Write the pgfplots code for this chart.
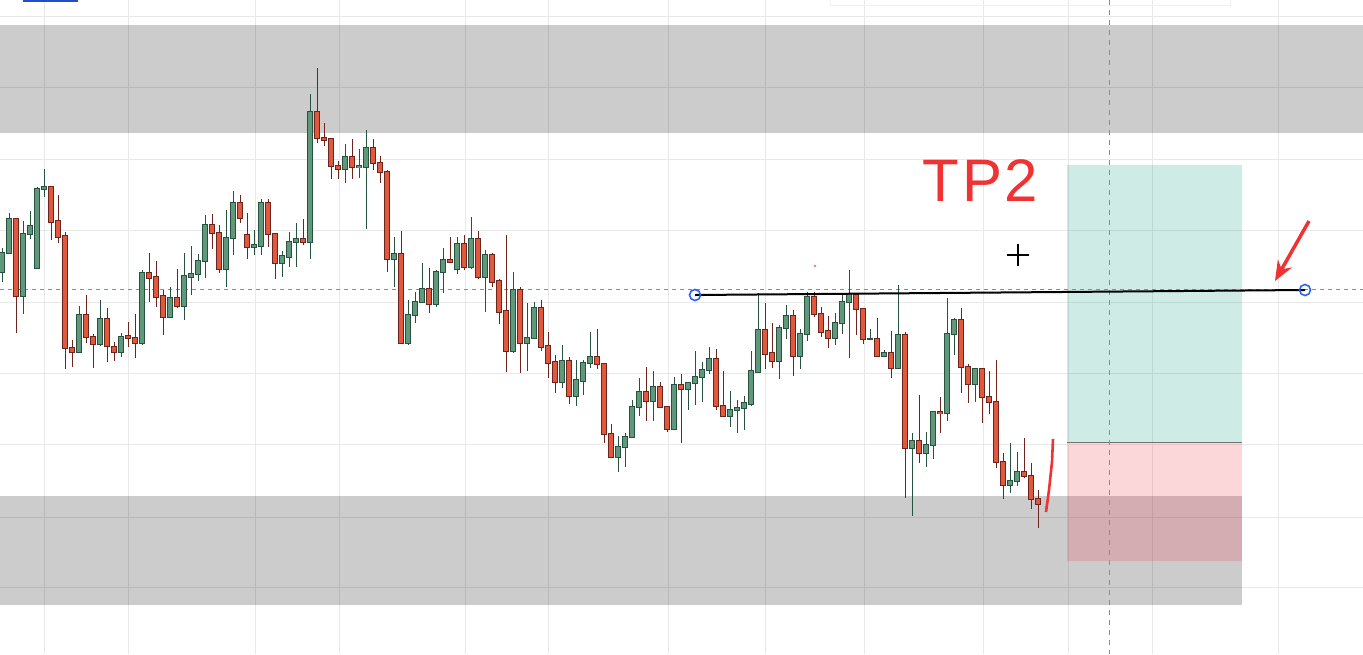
\documentclass[border=0pt]{standalone}
\usepackage{fontspec}
\setmainfont{Liberation Sans}
\usepackage{pgfplots}
\usepackage{pgfplotstable}
\pgfplotsset{compat=1.18}
\usetikzlibrary{arrows.meta}
\definecolor{cgreen}{RGB}{96,152,124}
\definecolor{cgreenD}{RGB}{40,82,64}
\definecolor{cred}{RGB}{224,88,62}
\definecolor{credD}{RGB}{110,36,26}
\definecolor{gridc}{RGB}{232,232,232}
\definecolor{teal}{RGB}{8,153,129}
\definecolor{pinkr}{RGB}{242,54,69}
\definecolor{hand}{RGB}{240,50,50}
\definecolor{tlblue}{RGB}{41,98,255}

% up candles: i, o (body bottom px), h (wick top px), l (wick bottom px), c (body top px)
\pgfplotstableread{
i o h l c
0 272 248 282 253
1 253 213 253 219
3 296 221 314 234
4 234 211 239 226
5 268 187 268 189
6 189 169 197 187
11 352 306 353 315
14 344 300 346 319
17 352 333 357 337
20 343 270 345 273
24 317 287 317 298
26 306 253 320 276
27 277 246 295 274
28 274 254 281 261
29 261 215 278 225
32 269 210 287 238
33 238 191 255 203
36 247 230 255 245
37 246 199 255 203
40 263 251 277 256
41 257 232 267 242
42 242 223 267 239
44 242 94 259 112
49 169 144 183 157
51 167 149 178 166
52 167 130 229 148
56 259 237 287 254
58 343 300 345 315
59 315 292 323 302
60 302 263 303 289
62 304 270 307 272
63 272 248 293 260
65 269 237 274 244
67 267 217 269 239
69 277 250 312 255
73 351 272 353 290
75 343 303 371 338
76 338 302 339 308
80 382 345 388 361
82 396 360 406 380
83 381 360 395 363
84 363 332 368 357
88 457 436 472 447
89 447 433 467 437
90 437 400 437 407
91 407 378 416 392
93 401 371 421 387
96 429 377 429 385
98 389 383 410 383
99 383 351 405 377
100 377 362 402 370
101 370 347 374 359
104 416 391 427 410
105 410 400 433 408
106 408 396 430 403
107 404 351 406 371
108 372 293 373 330
111 361 325 379 328
112 328 305 339 316
114 356 329 369 334
115 334 292 341 297
119 338 313 345 323
120 323 294 334 302
121 302 270 358 294
124 339 329 339 339
126 356 350 356 353
128 368 285 369 335
130 448 433 516 441
132 453 432 467 445
133 445 411 459 412
135 413 298 421 334
136 334 318 355 320
139 384 369 402 369
144 485 443 493 481
145 481 452 486 472
}\upT

% down candles: i, o (body top px), h (wick top px), l (wick bottom px), c (body bottom px)
\pgfplotstableread{
i o h l c
2 219 219 333 296
7 187 186 240 222
8 221 195 243 237
9 236 232 369 348
10 348 340 367 352
12 315 295 343 337
13 337 334 368 344
15 319 308 362 346
16 347 342 361 352
18 336 322 347 338
19 338 314 358 343
21 273 253 302 278
22 277 261 307 297
23 296 290 335 317
25 298 269 308 306
30 225 214 249 233
31 233 225 273 269
34 203 195 223 218
35 235 213 259 247
38 203 199 247 234
39 234 234 279 263
43 239 219 245 242
45 112 68 143 138
46 138 123 146 140
47 139 139 179 166
48 166 161 179 169
50 157 139 179 167
53 148 139 170 163
54 163 156 183 172
55 172 170 272 259
57 254 231 344 343
61 289 268 313 304
64 260 237 262 262
66 244 235 270 267
68 239 231 279 277
70 255 253 287 282
71 281 279 324 312
72 311 235 372 351
74 290 287 373 343
77 308 300 351 347
78 346 332 378 363
79 362 355 393 382
81 361 357 404 396
85 357 329 369 364
86 364 363 443 434
87 434 424 458 457
92 392 367 421 401
94 387 382 407 407
95 407 407 432 429
97 385 374 443 389
102 359 349 410 406
103 406 371 417 416
109 330 303 369 354
110 353 323 368 361
113 316 310 376 356
116 297 292 317 314
117 314 307 337 332
118 331 316 348 338
122 295 293 335 309
123 309 309 344 339
125 339 318 356 356
127 353 331 378 368
129 335 332 498 448
131 441 395 463 453
134 412 397 433 413
137 320 308 393 367
138 367 364 403 384
140 369 369 423 397
141 397 371 414 402
142 402 360 468 462
143 462 453 499 485
146 472 438 478 476
147 476 463 509 499
148 499 490 528 504
}\dnT

\pgfplotsset{
  ebar/.style 2 args={draw=none, mark=none, forget plot,
    error bars/.cd, y dir=both, y explicit, error mark=none,
    error bar style={line width=#1, draw=#2}},
}

\begin{document}
\begin{tikzpicture}
\begin{axis}[
  width=1363pt, height=654pt, scale only axis,
  xmin=0, xmax=1363, ymin=0, ymax=654, y dir=reverse,
  axis line style={draw=none}, ticks=none, clip=true,
  unbounded coords=jump,
]
% grid
\addplot[gridc, line width=1pt, forget plot] coordinates {
(44,0)(44,654)(nan,nan)(128,0)(128,654)(nan,nan)(255,0)(255,654)(nan,nan)
(339,0)(339,654)(nan,nan)(465,0)(465,654)(nan,nan)(548,0)(548,654)(nan,nan)
(668,0)(668,654)(nan,nan)(765,0)(765,654)(nan,nan)(864,0)(864,654)(nan,nan)
(983,0)(983,654)(nan,nan)(1068,0)(1068,654)(nan,nan)(1152,0)(1152,654)(nan,nan)
(1278,0)(1278,654)};
\addplot[gridc, line width=1pt, forget plot] coordinates {
(0,16)(1363,16)(nan,nan)(0,87)(1363,87)(nan,nan)(0,159)(1363,159)(nan,nan)
(0,230)(1363,230)(nan,nan)(0,302)(1363,302)(nan,nan)(0,373)(1363,373)(nan,nan)
(0,444)(1363,444)(nan,nan)(0,517)(1363,517)(nan,nan)(0,587)(1363,587)};
% zones
\addplot[draw=none, fill=black, fill opacity=0.2, forget plot] coordinates {(0,25)(1363,25)(1363,133)(0,133)} --cycle;
\addplot[draw=none, fill=black, fill opacity=0.2, forget plot] coordinates {(0,496)(1242,496)(1242,605)(0,605)} --cycle;
\addplot[draw=none, fill=teal, fill opacity=0.2, forget plot] coordinates {(1067,165)(1242,165)(1242,442)(1067,442)} --cycle;
\addplot[draw=none, fill=pinkr, fill opacity=0.2, forget plot] coordinates {(1067,442)(1242,442)(1242,561)(1067,561)} --cycle;
\addplot[black!55, line width=1pt, forget plot] coordinates {(1067,442)(1242,442)};
% top bits
\addplot[draw=none, fill=tlblue!80!black, forget plot] coordinates {(23,0)(78,0)(78,1.5)(23,1.5)} --cycle;
\addplot[draw=black!6, line width=1pt, forget plot] coordinates {(830,0)(830,5)(1230,5)(1230,0)};
% crosshair dashed
\addplot[black!45, line width=1pt, dash pattern=on 4pt off 4pt, forget plot] coordinates {(0,289.5)(1363,289.5)};
\addplot[black!45, line width=1pt, dash pattern=on 5pt off 5pt, forget plot] coordinates {(1109,0)(1109,654)};
% candles: wicks
\addplot[ebar={1pt}{cgreenD}] table[x expr=2.3+7*\thisrow{i}, y expr=(\thisrow{h}+\thisrow{l})/2, y error expr=(\thisrow{l}-\thisrow{h})/2] {\upT};
\addplot[ebar={1pt}{credD}] table[x expr=2.3+7*\thisrow{i}, y expr=(\thisrow{h}+\thisrow{l})/2, y error expr=(\thisrow{l}-\thisrow{h})/2] {\dnT};
% bodies outline
\addplot[ebar={6pt}{cgreenD}] table[x expr=2.3+7*\thisrow{i}, y expr=(\thisrow{o}+\thisrow{c})/2, y error expr={abs(\thisrow{o}-\thisrow{c})/2+0.8}] {\upT};
\addplot[ebar={6pt}{credD}] table[x expr=2.3+7*\thisrow{i}, y expr=(\thisrow{o}+\thisrow{c})/2, y error expr={abs(\thisrow{o}-\thisrow{c})/2+0.8}] {\dnT};
% bodies fill
\addplot[ebar={4pt}{cgreen}] table[x expr=2.3+7*\thisrow{i}, y expr=(\thisrow{o}+\thisrow{c})/2, y error expr={max(abs(\thisrow{o}-\thisrow{c})/2-0.2,0)}] {\upT};
\addplot[ebar={4pt}{cred}] table[x expr=2.3+7*\thisrow{i}, y expr=(\thisrow{o}+\thisrow{c})/2, y error expr={max(abs(\thisrow{o}-\thisrow{c})/2-0.2,0)}] {\dnT};
% trend line
\addplot[black, line width=2pt, forget plot] coordinates {(695,295)(1305,290)};
\addplot[only marks, mark=o, mark size=5.5pt, mark options={draw=tlblue, fill=white, line width=1.6pt}, forget plot] coordinates {(695,295)(1305,290)};
% crosshair plus
\addplot[black, line width=1.4pt, forget plot] coordinates {(1007,255)(1029,255)(nan,nan)(1018,244)(1018,266)};
% small pink dot
\addplot[only marks, mark=*, mark size=1.2pt, mark options={draw=pinkr!70, fill=pinkr!70}, forget plot] coordinates {(815,266)};
% handwriting
\addplot[hand, line width=3.5pt, -{Stealth[length=20pt,width=16pt]}, forget plot] coordinates {(1309,221)(1275,281)};
\addplot[hand, line width=2.6pt, forget plot] coordinates {(1053,439)(1052,462)(1049,490)(1046,512)};
\node[text=hand, font=\fontsize{60}{60}\selectfont, anchor=base west, inner sep=0pt] at (axis cs:922,201) {T\kern4pt P\kern2pt 2};
\end{axis}
\end{tikzpicture}
\end{document}
